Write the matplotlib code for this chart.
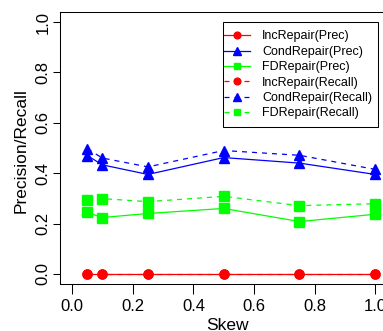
import matplotlib
matplotlib.use('Agg')
import matplotlib.pyplot as plt
from matplotlib.patches import Rectangle

plt.rcParams['font.family'] = ['Liberation Sans', 'DejaVu Sans']

# Daten
skew = [0.05, 0.1, 0.25, 0.5, 0.75, 1.0]
inc_prec = [0.0, 0.0, 0.0, 0.0, 0.0, 0.0]
cond_prec = [0.470, 0.433, 0.395, 0.462, 0.440, 0.395]
fd_prec = [0.244, 0.224, 0.240, 0.260, 0.208, 0.237]
inc_recall = [0.0, 0.0, 0.0, 0.0, 0.0, 0.0]
cond_recall = [0.497, 0.460, 0.425, 0.490, 0.471, 0.415]
fd_recall = [0.292, 0.299, 0.287, 0.308, 0.271, 0.279]
ticks = [0.0, 0.2, 0.4, 0.6, 0.8, 1.0]

W, H = 383, 331
fig = plt.figure(figsize=(W / 100, H / 100), dpi=100)
# rechter Rand liegt ausserhalb des Bildes (wie im Original abgeschnitten)
ax = fig.add_axes([60 / W, 47 / H, 327.4 / W, 272 / H])

dash = (0, (4, 4))
kw = dict(lw=0.9, clip_on=False)
ax.plot(skew, inc_prec, color='#ff0000', marker='o', ms=6.5, label='IncRepair(Prec)', **kw)
ax.plot(skew, cond_prec, color='#0000ff', marker='^', ms=6.8, label='CondRepair(Prec)', **kw)
ax.plot(skew, fd_prec, color='#00ff00', marker='s', ms=6.5, label='FDRepair(Prec)', **kw)
ax.plot(skew, inc_recall, color='#ff0000', marker='o', ms=6.5, ls=dash, label='IncRepair(Recall)', **kw)
ax.plot(skew, cond_recall, color='#0000ff', marker='^', ms=6.8, ls=dash, label='CondRepair(Recall)', **kw)
ax.plot(skew, fd_recall, color='#00ff00', marker='s', ms=6.5, ls=dash, label='FDRepair(Recall)', **kw)

ax.set_xlim(-0.04, 1.04)
ax.set_ylim(-0.04, 1.04)
ax.set_xticks(ticks)
ax.set_yticks(ticks)
ax.set_xticklabels([f'{t:.1f}' for t in ticks], fontsize=12)
ax.set_yticklabels([f'{t:.1f}' for t in ticks], fontsize=12, rotation=90, va='center')
ax.tick_params(axis='x', length=7.5, width=0.75, pad=3)
ax.tick_params(axis='y', length=5, width=0.75, pad=2)
for s in ax.spines.values():
    s.set_linewidth(0.75)

ax.set_xlabel('Skew', fontsize=12.5, va='center')
ax.xaxis.set_label_coords(0.51, -0.151)
ax.set_ylabel('Precision/Recall', fontsize=12.5, va='center')
ax.yaxis.set_label_coords(-0.12, 0.49)

leg = fig.legend(loc='upper left', bbox_to_anchor=(224 / W, 1 - 30.5 / H), frameon=False,
                 fontsize=9.0, handlelength=2.1, handletextpad=0.95, labelspacing=0.27,
                 borderpad=0, borderaxespad=0, markerscale=0.75)

# Rahmen um die Legende
fig.canvas.draw()
bb = leg.get_window_extent()
x0, y0 = bb.x0 - 1, bb.y0 - 8
x1, y1 = bb.x1 + 6, bb.y1 + 8
fig.patches.append(Rectangle((x0 / W, y0 / H), (x1 - x0) / W, (y1 - y0) / H,
                             transform=fig.transFigure, fill=False, lw=0.75, ec='black'))

fig.savefig('out.png', dpi=100)
